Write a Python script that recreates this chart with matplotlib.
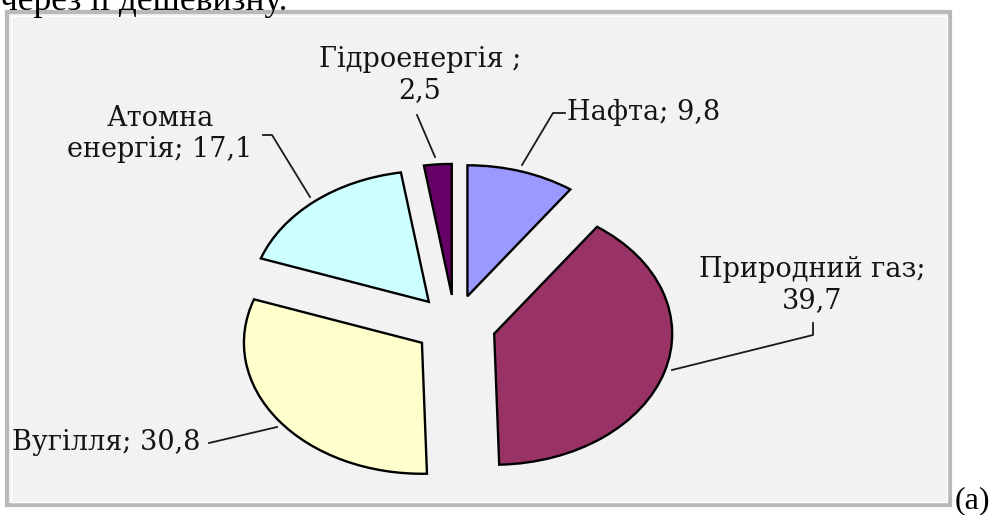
import matplotlib
matplotlib.use('Agg')
import matplotlib.pyplot as plt
from matplotlib.patches import Rectangle

# data, in the order the slices go (clockwise from the top)
sources = ['Нафта', 'Природний газ', 'Вугілля', 'Атомна енергія', 'Гідроенергія']
shares = [9.8, 39.7, 30.8, 17.1, 2.5]
colors = ['#9999ff', '#993366', '#ffffcc', '#ccffff', '#660066']
labels = ['Нафта; 9,8', 'Природний газ;\n39,7', 'Вугілля; 30,8',
          'Атомна\nенергія; 17,1', 'Гідроенергія ;\n2,5']

W, H = 995, 515
fig = plt.figure(figsize=(W / 100., H / 100.), dpi=100)

# background axes in pixel units: frame, labels, leader lines
bg = fig.add_axes([0, 0, 1, 1], zorder=0)
bg.set_xlim(0, W)
bg.set_ylim(H, 0)
bg.axis('off')

bg.add_patch(Rectangle((7, 12), 943, 493, facecolor='#f2f2f2',
                       edgecolor='#b9b9b9', linewidth=3))
bg.add_patch(Rectangle((10.5, 15.5), 936, 486, facecolor='none',
                       edgecolor='white', linewidth=1))

bg.text(0, 10, 'через її дешевизну.', family='Liberation Serif', fontsize=25.5,
        va='baseline', ha='left', color='black')
bg.text(955, 508, '(a)', family='Liberation Serif', fontsize=23,
        va='baseline', ha='left', color='black')

# label placement (pixels)
lab_xy = [(567, 112), (812, 285), (12, 443), (160, 134), (420, 75)]
lab_ha = ['left', 'center', 'left', 'center', 'center']
leaders = [
    [(522, 165), (553, 113), (565, 113)],
    [(672, 370), (813, 335), (813, 323)],
    [(209, 443), (277, 427)],
    [(263, 135), (272, 135), (310, 197)],
    [(417, 115), (435, 157)],
]

for txt, (x, y), ha, pts in zip(labels, lab_xy, lab_ha, leaders):
    bg.text(x, y, txt, family='DejaVu Serif', fontsize=19.5, color='#141414',
            ha=ha, va='center', multialignment='center', linespacing=1.22)
    xs = [p[0] for p in pts]
    ys = [p[1] for p in pts]
    bg.plot(xs, ys, color='#1a1a1a', lw=1.3)

# pie axes: stretched so the circle becomes a wide ellipse
cx, cy, rx, ry = 455, 325, 178, 131
ax = fig.add_axes([0, 0, 1, 1], zorder=1)
ax.pie(shares, colors=colors, startangle=90, counterclock=False,
       explode=[0.23] * len(shares),
       wedgeprops=dict(edgecolor='black', linewidth=1.7))
ax.set_aspect('auto')
ax.set_xlim(-cx / rx, (W - cx) / rx)
ax.set_ylim(-(H - cy) / ry, cy / ry)
ax.axis('off')
ax.patch.set_alpha(0)

fig.savefig('out.png', dpi=100)
